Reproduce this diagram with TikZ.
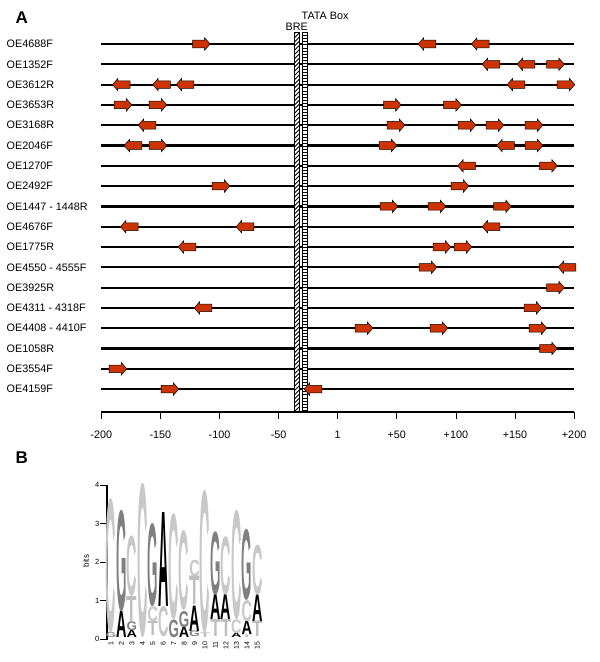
\documentclass[tikz,border=0pt]{standalone}
\usepackage{fontspec}
\setmainfont{Liberation Sans}
\definecolor{genered}{HTML}{CC3300}
\definecolor{lightC}{HTML}{C8C8C8}
\definecolor{lightT}{HTML}{BEBEBE}
\definecolor{midG}{HTML}{808080}
\usepackage{graphicx}
\usetikzlibrary{positioning}

\tikzset{
  rowlabel/.style={anchor=west,inner sep=0pt,font=\fontsize{10.8}{12}\selectfont},
  seqline/.style={line width=2.2pt},
  gene/.style={draw=black,fill=genered,line width=0.5pt},
  pics/fwd/.style={code={\draw[gene] (-8.8,-3.8) -- (3.4,-3.8) -- (3.4,-6.2) -- (8.8,0) -- (3.4,6.2) -- (3.4,3.8) -- (-8.8,3.8) -- cycle;}},
  pics/rev/.style={code={\draw[gene] (8.8,-3.8) -- (-3.4,-3.8) -- (-3.4,-6.2) -- (-8.8,0) -- (-3.4,6.2) -- (-3.4,3.8) -- (8.8,3.8) -- cycle;}},
  ticklabel/.style={inner sep=0pt,font=\fontsize{10.8}{12}\selectfont},
  panel/.style={inner sep=0pt,font=\fontsize{17}{18}\selectfont\bfseries},
  logoletter/.style={anchor=south,inner sep=0pt},
}

\begin{document}
\begin{tikzpicture}[x=1pt,y=-1pt]
\useasboundingbox (0,0) rectangle (600,662);

% panel A: promoter map
\node[panel] (panelA) at (21.7,17.5) {A};
\foreach \name [count=\i] in {OE4688F,OE1352F,OE3612R,OE3653R,OE3168R,OE2046F,OE1270F,OE2492F,OE1447 - 1448R,OE4676F,OE1775R,OE4550 - 4555F,OE3925R,OE4311 - 4318F,OE4408 - 4410F,OE1058R,OE3554F,OE4159F} {
  \pgfmathsetmacro\yy{44+(\i-1)*20.3}
  \node[rowlabel] (row\i) at (6.5,\yy) {\name};
  \draw[seqline] (101,\yy) -- (574,\yy);
}

% BRE and TATA boxes
\coordinate (breNW) at (294,32.5);
\coordinate (breSE) at (299.5,411);
\coordinate (tataNW) at (302,32.5);
\coordinate (tataSE) at (307.7,411);
\begin{scope}
  \clip (breNW) rectangle (breSE);
  \fill[white] (breNW) rectangle (breSE);
  \foreach \k in {0,...,92}
    \draw[line width=0.9pt] (292,36+\k*4.2) -- ++(9,-9);
\end{scope}
\draw[line width=0.7pt] (breNW) rectangle (breSE);
\fill[white] (tataNW) rectangle (tataSE);
\foreach \k in {1,...,123}
  \draw[line width=0.6pt] (302,32.5+\k*3.07) -- (307.7,32.5+\k*3.07);
\draw[line width=0.7pt] (tataNW) rectangle (tataSE);
\node[inner sep=0pt,font=\fontsize{10.8}{12}\selectfont] (bre) at (296.7,26.7) {BRE};
\node[inner sep=0pt,anchor=west,font=\fontsize{10.8}{12}\selectfont] (tata) at (301.5,16) {TATA Box};

% genes
\foreach \r/\x in {1/201.3,2/555.5,3/566,4/123,4/158,4/392.3,4/452.5,5/396,5/467,5/495,5/534,6/158,6/388,6/534,7/548.5,8/221,8/460,9/389,9/437,9/502.5,11/442,11/463,12/428,13/555.5,14/533,15/364,15/439,15/538,16/548.5,17/118,18/170}
  \pic at (\x,{44+(\r-1)*20.3}) {fwd};
\foreach \r/\x in {1/427,1/480.3,2/491,2/526,3/121.3,3/161.5,3/185,3/516,5/147,6/133,6/505.5,7/466.5,10/129.3,10/245,10/491,11/187,12/567,14/203,18/313}
  \pic at (\x,{44+(\r-1)*20.3}) {rev};

% position axis
\draw[line width=2.6pt] (101,412) -- (574,412);
\foreach \lab [count=\k from 0] in {-200,-150,-100,-50,1,+50,+100,+150,+200} {
  \draw[line width=0.8pt] (101.3+\k*59.1,412) -- ++(0,7);
  \node[ticklabel] (tick\k) at (101.3+\k*59.1,434.5) {\lab};
}

% panel B: sequence logo
\node[panel] (panelB) at (21.7,458) {B};
\draw[line width=1.8pt] (106.7,484.5) -- (106.7,639.5);
\foreach \b in {0,...,4} {
  \draw[line width=0.6pt] (100,639-\b*38.5) -- (106,639-\b*38.5);
  \node[inner sep=0.3pt,anchor=east,font=\fontsize{7.5}{8}\selectfont] (bit\b) at (99.8,639-\b*38.5) {\b};
}
\node[rotate=90,inner sep=0pt,font=\fontsize{8}{9}\selectfont] (bits) at (86,561) {bits};
\foreach \col in {1,...,15}
  \node[rotate=90,anchor=east,inner sep=0pt,font=\fontsize{7}{8}\selectfont] (pos\col) at ({111+(\col-1)*10.45},641.5) {\col};
\foreach \col/\lo/\hi/\ltr/\clr in {
  1/0.02/0.15/G/midG, 1/0.15/3.65/C/lightC,
  2/0.03/0.71/A/black, 2/0.71/3.35/G/midG,
  3/0.03/0.22/A/black, 3/0.22/0.45/G/midG, 3/0.45/1.1/T/lightT, 3/1.1/2.67/C/lightC,
  4/0.03/4.04/C/lightC,
  5/0.08/0.45/T/lightT, 5/0.45/0.84/C/lightC, 5/0.84/3.0/G/midG,
  6/0.05/0.84/C/lightC, 6/0.84/3.28/A/black,
  7/0.04/0.5/G/midG, 7/0.5/3.26/C/lightC,
  8/0.03/0.3/A/black, 8/0.3/0.72/G/midG, 8/0.72/2.8/C/lightC,
  9/0.05/0.2/G/midG, 9/0.2/0.86/A/black, 9/0.88/1.62/T/lightT, 9/1.62/2.05/C/lightC,
  10/0.03/0.15/T/lightT, 10/0.15/3.87/C/lightC,
  11/0.05/0.49/T/lightT, 11/0.49/1.14/A/black, 11/1.14/2.79/G/midG,
  12/0.05/0.49/T/lightT, 12/0.49/1.14/A/black, 12/1.14/2.66/C/lightC,
  13/0.03/0.14/A/black, 13/0.14/0.5/C/lightC, 13/0.5/3.35/C/lightC,
  14/0.03/0.1/T/lightT, 14/0.1/0.45/A/black, 14/0.45/1.0/C/lightC, 14/1.0/2.85/G/midG,
  15/0.05/0.45/T/lightT, 15/0.45/1.14/A/black, 15/1.14/2.44/C/lightC} {
  \pgfmathsetmacro\hh{(\hi-\lo)*38.5}
  \node[logoletter,text=\clr] (c\col\ltr\lo) at ({111+(\col-1)*10.45},{639-\lo*38.5}) {\resizebox*{10.4pt}{\hh pt}{\bfseries\ltr}};
}
\end{tikzpicture}
\end{document}
